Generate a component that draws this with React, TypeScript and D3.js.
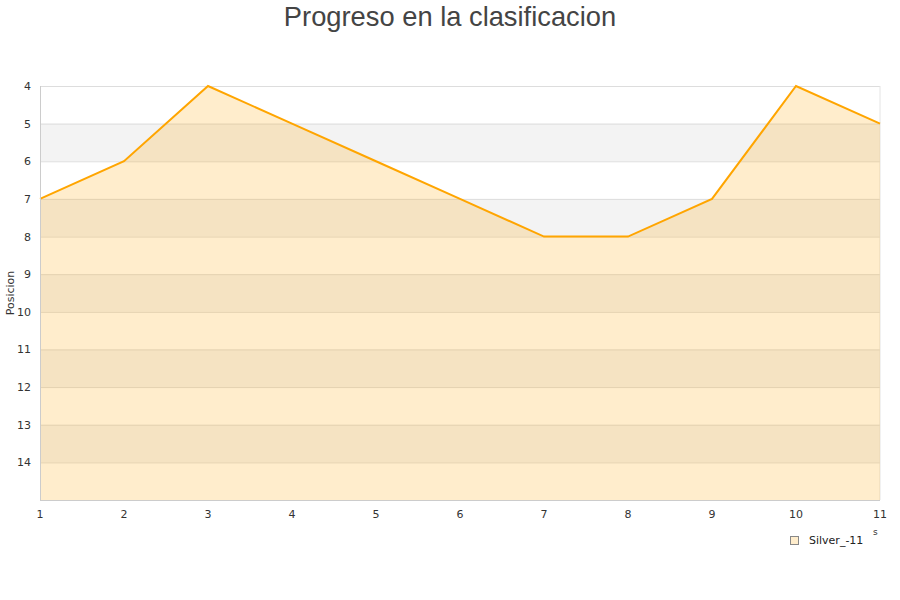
import * as d3 from "d3";

const rounds = [1, 2, 3, 4, 5, 6, 7, 8, 9, 10, 11];
const positions = [7, 6, 4, 5, 6, 7, 8, 8, 7, 4, 5];
const yTicks = [4, 5, 6, 7, 8, 9, 10, 11, 12, 13, 14];
const seriesName = "Silver_-11";

const W = 900;
const H = 600;
const margin = { top: 86, right: 20, bottom: 100, left: 40 };

export default function App() {
  const x = d3
    .scaleLinear()
    .domain([1, 11])
    .range([margin.left, W - margin.right]);
  const y = d3
    .scaleLinear()
    .domain([4, 15])
    .range([margin.top, H - margin.bottom]);

  const pts = rounds.map((r, i) => [r, positions[i]] as [number, number]);
  const line = d3
    .line<[number, number]>()
    .x((d) => x(d[0]))
    .y((d) => y(d[1]));
  const area = d3
    .area<[number, number]>()
    .x((d) => x(d[0]))
    .y0(y(15))
    .y1((d) => y(d[1]));

  const bands = d3.range(4, 15);
  const font = "DejaVu Sans, sans-serif";

  return (
    <div style={{ position: "absolute", left: 0, top: 0 }}>
      <svg width={W} height={H} style={{ display: "block", background: "#fff" }}>
        <text
          x={W / 2}
          y={26}
          textAnchor="middle"
          fontFamily="Liberation Sans, Arial, sans-serif"
          fontSize={27.3}
          fill="#444"
        >
          Progreso en la clasificacion
        </text>

        {bands.map((b) => (
          <rect
            key={b}
            x={x(1)}
            y={y(b)}
            width={x(11) - x(1)}
            height={y(b + 1) - y(b)}
            fill={b % 2 === 1 ? "#f3f3f3" : "#ffffff"}
          />
        ))}
        {yTicks.map((t) => (
          <line
            key={t}
            x1={x(1)}
            x2={x(11)}
            y1={y(t) + 0.5}
            y2={y(t) + 0.5}
            stroke="#dddddd"
          />
        ))}
        <line x1={x(11)} x2={x(11)} y1={y(4)} y2={y(15)} stroke="#e4e4e4" />

        <path d={area(pts) ?? ""} fill="orange" fillOpacity={0.2} />
        <path d={line(pts) ?? ""} fill="none" stroke="orange" strokeWidth={2} />

        <line
          x1={x(1) + 0.5}
          x2={x(1) + 0.5}
          y1={y(4)}
          y2={y(15)}
          stroke="#cccccc"
        />
        <line
          x1={x(1)}
          x2={x(11)}
          y1={y(15) + 0.5}
          y2={y(15) + 0.5}
          stroke="#cccccc"
        />

        {yTicks.map((t) => (
          <text
            key={t}
            x={31}
            y={y(t) + 4}
            textAnchor="end"
            fontFamily={font}
            fontSize={11}
            fill="#333"
          >
            {t}
          </text>
        ))}
        {rounds.map((r) => (
          <text
            key={r}
            x={x(r)}
            y={518}
            textAnchor="middle"
            fontFamily={font}
            fontSize={11}
            fill="#333"
          >
            {r}
          </text>
        ))}

        <text
          transform={`translate(14,${(y(4) + y(15)) / 2}) rotate(-90)`}
          textAnchor="middle"
          fontFamily={font}
          fontSize={11}
          fill="#333"
        >
          Posicion
        </text>
        <text x={873} y={535} fontFamily={font} fontSize={9} fill="#333">
          s
        </text>

        <rect
          x={790.5}
          y={536.5}
          width={8}
          height={8}
          fill="#ffedcc"
          stroke="#888"
        />
        <text x={809} y={544} fontFamily={font} fontSize={11} fill="#222">
          {seriesName}
        </text>
      </svg>
    </div>
  );
}
